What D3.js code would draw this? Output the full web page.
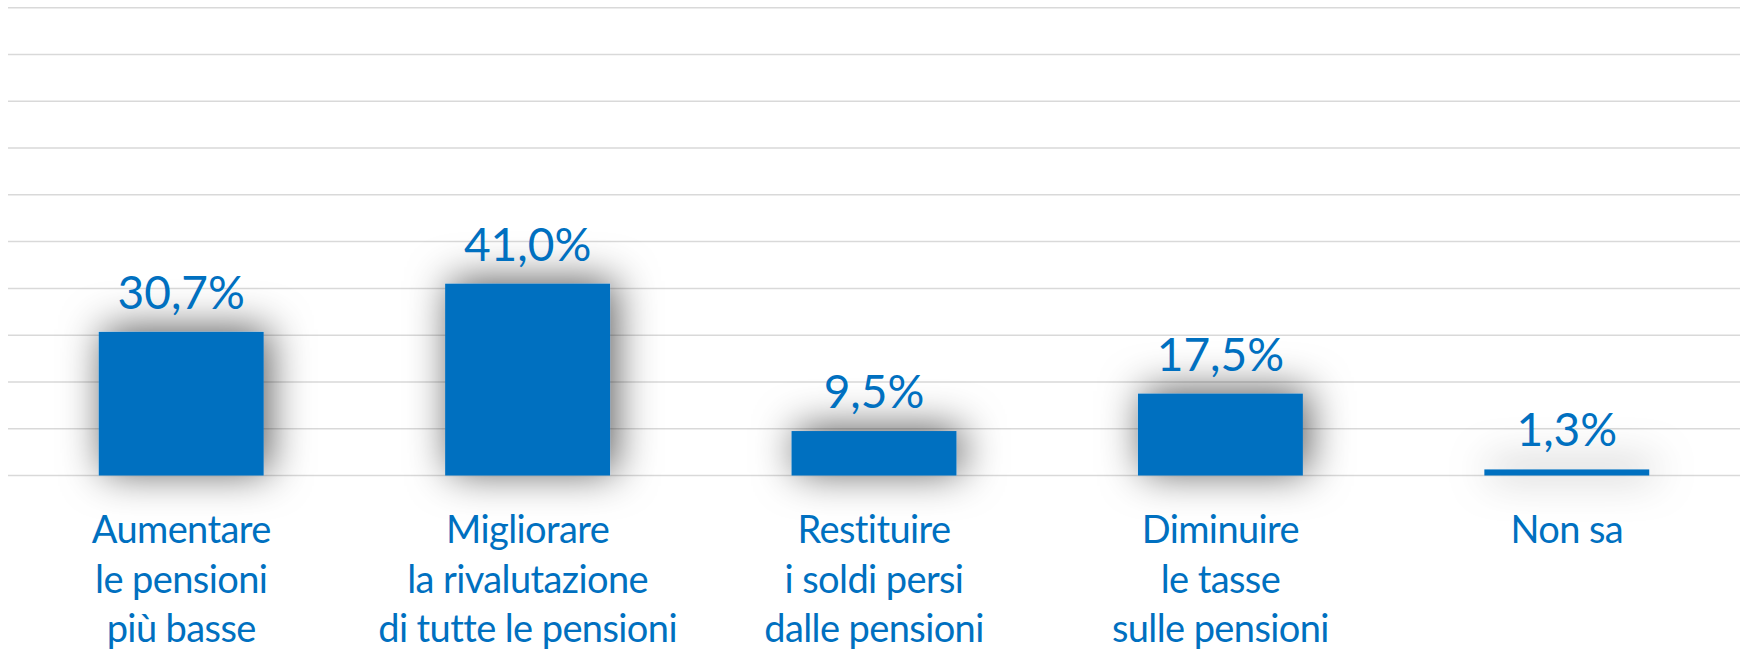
<!DOCTYPE html>
<html>
<head>
<meta charset="utf-8">
<script src="https://cdn.jsdelivr.net/npm/d3@7.9.0/dist/d3.min.js"></script>
<style>
  html, body { margin: 0; padding: 0; background: #fff; }
  svg { display: block; }
  text { font-family: Lato, "Noto Sans", sans-serif; fill: #0070c0; }
</style>
</head>
<body>
<svg id="chart" width="1740" height="651"></svg>
<script>
// data
const categories = [
  ['Aumentare', 'le pensioni', 'più basse'],
  ['Migliorare', 'la rivalutazione', 'di tutte le pensioni'],
  ['Restituire', 'i soldi persi', 'dalle pensioni'],
  ['Diminuire', 'le tasse', 'sulle pensioni'],
  ['Non sa']
];
const values = [30.7, 41.0, 9.5, 17.5, 1.3];
const yTicks = [0, 10, 20, 30, 40, 50, 60, 70, 80, 90, 100];

const blue = '#0070c0';
const fmt = v => d3.format('.1f')(v).replace('.', ',') + '%';

const svg = d3.select('#chart');

const x = d3.scaleBand()
  .domain(d3.range(values.length))
  .range([8, 1740])
  .paddingInner(0.524)
  .paddingOuter(0.262);

const y = d3.scaleLinear()
  .domain([0, 100])
  .range([475.5, 7.7]);

// soft shadow behind the bars (region in user space so flat bars aren't clipped)
const defs = svg.append('defs');
const f = defs.append('filter')
  .attr('id', 'shadow')
  .attr('filterUnits', 'userSpaceOnUse')
  .attr('x', 0).attr('y', 0)
  .attr('width', 1740).attr('height', 651);
f.append('feDropShadow')
  .attr('dx', 5).attr('dy', -3)
  .attr('stdDeviation', 21)
  .attr('flood-color', '#000')
  .attr('flood-opacity', 0.65);

// gridlines
svg.append('g')
  .selectAll('line')
  .data(yTicks)
  .join('line')
    .attr('x1', 8)
    .attr('x2', 1740)
    .attr('y1', d => y(d))
    .attr('y2', d => y(d))
    .attr('stroke', '#d9d9d9')
    .attr('stroke-width', 1.5);

// bars
svg.append('g')
  .selectAll('rect')
  .data(values)
  .join('rect')
    .attr('x', (_, i) => x(i))
    .attr('y', d => y(d))
    .attr('width', x.bandwidth())
    .attr('height', d => y(0) - y(d))
    .attr('fill', blue)
    .attr('filter', 'url(#shadow)');

// value labels
svg.append('g')
  .selectAll('text')
  .data(values)
  .join('text')
    .attr('x', (_, i) => x(i) + x.bandwidth() / 2)
    .attr('y', d => y(d) - 23)
    .attr('text-anchor', 'middle')
    .attr('font-size', 46)
    .text(fmt);

// category labels
const cat = svg.append('g')
  .selectAll('text')
  .data(categories)
  .join('text')
    .attr('x', (_, i) => x(i) + x.bandwidth() / 2)
    .attr('y', 543)
    .attr('text-anchor', 'middle')
    .attr('font-size', 38)
    .attr('letter-spacing', -0.6);

cat.selectAll('tspan')
  .data(d => d)
  .join('tspan')
    .attr('x', function () { return this.parentNode.getAttribute('x'); })
    .attr('dy', (_, j) => j === 0 ? 0 : 49.5)
    .text(d => d);
</script>
</body>
</html>
